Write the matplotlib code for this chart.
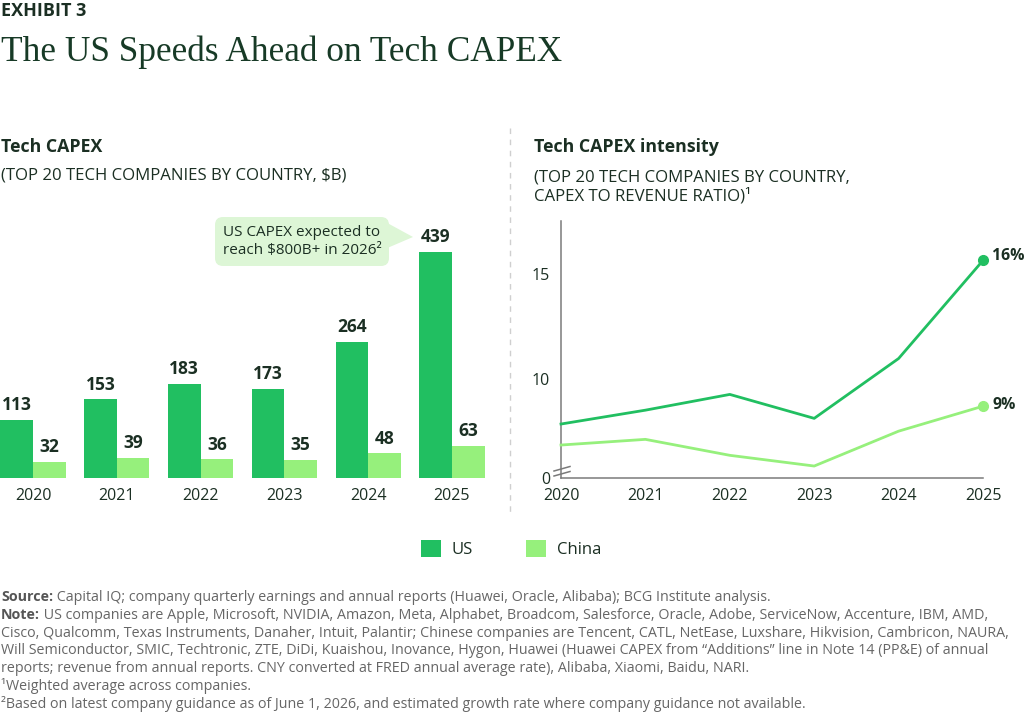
import matplotlib
matplotlib.use('Agg')
import matplotlib.pyplot as plt
import numpy as np
from matplotlib.patches import FancyBboxPatch, Polygon
from matplotlib.lines import Line2D
from matplotlib import transforms
from matplotlib import font_manager as fm

# ---------------- data ----------------
years = ['2020', '2021', '2022', '2023', '2024', '2025']
year_nums = [2020, 2021, 2022, 2023, 2024, 2025]
us_capex = [113, 153, 183, 173, 264, 439]
china_capex = [32, 39, 36, 35, 48, 63]
# capex intensity (%), read on the broken axis (bottom of axis labelled "0")
us_intensity = [7.86, 8.52, 9.27, 8.13, 10.98, 15.65]
china_intensity = [6.86, 7.13, 6.37, 5.86, 7.52, 8.71]
intensity_end_labels = ['16%', '9%']
intensity_ticks = [5.29, 10, 15]
intensity_ticklabels = ['0', '10', '15']
series_names = ['US', 'China']

footnotes = [
    ("Source:", " Capital IQ; company quarterly earnings and annual reports (Huawei, Oracle, Alibaba); BCG Institute analysis."),
    ("Note:", " US companies are Apple, Microsoft, NVIDIA, Amazon, Meta, Alphabet, Broadcom, Salesforce, Oracle, Adobe, ServiceNow, Accenture, IBM, AMD,"),
    ("", "Cisco, Qualcomm, Texas Instruments, Danaher, Intuit, Palantir; Chinese companies are Tencent, CATL, NetEase, Luxshare, Hikvision, Cambricon, NAURA,"),
    ("", "Will Semiconductor, SMIC, Techtronic, ZTE, DiDi, Kuaishou, Inovance, Hygon, Huawei (Huawei CAPEX from \u201cAdditions\u201d line in Note 14 (PP&E) of annual"),
    ("", "reports; revenue from annual reports. CNY converted at FRED annual average rate), Alibaba, Xiaomi, Baidu, NARI."),
    ("", "\u00b9Weighted average across companies."),
    ("", "\u00b2Based on latest company guidance as of June 1, 2026, and estimated growth rate where company guidance not available."),
]

# ---------------- style ----------------
US_C = '#21BF61'
CN_C = '#96F07C'
DARK = '#1B2F23'
TITLE_C = '#173A26'
GREY = '#666666'
CALLOUT = '#DDF6D6'
SANS = ['Open Sans', 'DejaVu Sans']
avail = {f.name for f in fm.fontManager.ttflist}
NOTE_FONT = ['Liberation Sans Narrow', 'DejaVu Sans'] if 'Liberation Sans Narrow' in avail else SANS

plt.rcParams['font.family'] = SANS
plt.rcParams['text.color'] = DARK

W, H = 1024, 712
fig = plt.figure(figsize=(W / 100, H / 100), dpi=100)
fig.patch.set_facecolor('white')


def fx(x):
    return x / W


def fy(y):
    return 1 - y / H


PX = transforms.Affine2D().scale(1 / W, -1 / H).translate(0, 1) + fig.transFigure

# ---------------- titles ----------------
fig.text(fx(1), fy(16), 'EXHIBIT 3', fontsize=13, fontweight='bold', color=DARK, va='baseline')
fig.text(fx(1), fy(61), 'The US Speeds Ahead on Tech CAPEX', fontsize=25.4,
         family=['Liberation Serif', 'DejaVu Serif'], color=TITLE_C, va='baseline')

fig.text(fx(1), fy(152), 'Tech CAPEX', fontsize=12.8, fontweight='bold', va='baseline')
fig.text(fx(1), fy(179), '(TOP 20 TECH COMPANIES BY COUNTRY, $B)', fontsize=12.1, va='baseline')
fig.text(fx(534), fy(152), 'Tech CAPEX intensity', fontsize=12.8, fontweight='bold', va='baseline')
fig.text(fx(534), fy(181), '(TOP 20 TECH COMPANIES BY COUNTRY,', fontsize=12.1, va='baseline')
fig.text(fx(534), fy(200.5), 'CAPEX TO REVENUE RATIO)\u00b9', fontsize=12.1, va='baseline')

# separator
fig.add_artist(Line2D([509.5, 509.5], [128, 512], transform=PX, color='#CFCFCF', lw=1,
                      linestyle=(0, (4, 4))))

# ---------------- left: bar chart ----------------
ax1 = fig.add_axes([fx(0), fy(478), fx(495), (478 - 218) / H])
x = np.arange(len(years))
bw = 0.39
b_us = ax1.bar(x - bw / 2, us_capex, bw, color=US_C, label=series_names[0])
b_cn = ax1.bar(x + bw / 2, china_capex, bw, color=CN_C, label=series_names[1])
ax1.set_ylim(0, 260 / 0.5155)
ax1.set_xlim(-33 / 83.8, (495 - 33) / 83.8)
for s in ax1.spines.values():
    s.set_visible(False)
ax1.set_yticks([])
ax1.set_xticks(x)
ax1.set_xticklabels(years, fontsize=11.5, color=DARK)
ax1.tick_params(axis='x', length=0, pad=7)
ax1.bar_label(b_us, padding=4, fontsize=12.5, fontweight='bold', color=DARK)
ax1.bar_label(b_cn, padding=4, fontsize=12.5, fontweight='bold', color=DARK)
ax1.patch.set_alpha(0)

# callout
box = FancyBboxPatch((215, 217), 174, 49, boxstyle='round,pad=0,rounding_size=8',
                     transform=PX, facecolor=CALLOUT, edgecolor='none', zorder=1)
fig.add_artist(box)
fig.add_artist(Polygon([(380, 219), (413, 237), (385, 249)], closed=True, transform=PX,
                       facecolor=CALLOUT, edgecolor='none', zorder=1))
fig.text(fx(302), fy(232), 'US CAPEX expected to', fontsize=11, ha='center', va='center', color=DARK)
fig.text(fx(302), fy(251), 'reach $800B+ in 2026\u00b2', fontsize=11, ha='center', va='center', color=DARK)

# ---------------- right: line chart ----------------
ax2 = fig.add_axes([fx(561), fy(478), fx(983) - fx(561), (478 - 220.7) / H])
ax2.set_xlim(2020, 2025)
ax2.set_ylim(intensity_ticks[0], 5.29 + (478 - 220.7) / 21)
ax2.plot(year_nums, us_intensity, color=US_C, lw=2, marker='o', markevery=[len(year_nums) - 1],
         ms=7, clip_on=False, zorder=3)
ax2.plot(year_nums, china_intensity, color=CN_C, lw=2, marker='o', markevery=[len(year_nums) - 1],
         ms=7, clip_on=False, zorder=3)
for vals, lab, dy in zip([us_intensity, china_intensity], intensity_end_labels, [3, 1]):
    ax2.annotate(lab, xy=(year_nums[-1], vals[-1]), xytext=(6.5, dy), textcoords='offset points',
                 fontsize=11.4, fontweight='bold', va='center', ha='left', color=DARK,
                 annotation_clip=False)
for side in ['top', 'right']:
    ax2.spines[side].set_visible(False)
for side in ['left', 'bottom']:
    ax2.spines[side].set_color('#7A7A7A')
    ax2.spines[side].set_linewidth(1.1)
ax2.set_xticks(year_nums)
ax2.set_xticklabels(years, fontsize=11.5, color=DARK)
ax2.set_yticks(intensity_ticks)
ax2.set_yticklabels(intensity_ticklabels, fontsize=11.5, color=DARK)
ax2.tick_params(axis='x', length=0, pad=7)
ax2.tick_params(axis='y', length=0, pad=8)
ax2.patch.set_alpha(0)

# axis break marks
for dy in (0, -5):
    fig.add_artist(Line2D([554, 570], [476 + dy, 471.5 + dy], transform=PX, color='#7A7A7A', lw=1.1))

# ---------------- legend ----------------
fig.legend(handles=[b_us, b_cn], labels=series_names, loc='center left',
           bbox_to_anchor=(fx(421), fy(549)), ncol=2, frameon=False, fontsize=12,
           handlelength=1.2, handleheight=1.2, handletextpad=0.65, columnspacing=3.2,
           borderpad=0, borderaxespad=0, labelcolor=DARK)

# ---------------- footnotes ----------------
fig.canvas.draw()
renderer = fig.canvas.get_renderer()
probe = fig.text(0, 0, footnotes[2][1], fontsize=10, family=NOTE_FONT)
wpx = probe.get_window_extent(renderer).width
probe.remove()
note_size = 10 * 1008 / wpx
y0 = 601
for i, (b, rest) in enumerate(footnotes):
    yy = fy(y0 + i * 17.8)
    if b:
        t = fig.text(fx(1), yy, b, fontsize=note_size, family=NOTE_FONT, fontweight='bold',
                     color='#555555', va='baseline')
        fig.canvas.draw()
        bb = t.get_window_extent(renderer)
        fig.text(fx(1 + bb.width), yy, rest, fontsize=note_size, family=NOTE_FONT,
                 color=GREY, va='baseline')
    else:
        fig.text(fx(1), yy, rest, fontsize=note_size, family=NOTE_FONT, color=GREY, va='baseline')

fig.savefig('out.png', dpi=100, facecolor='white')
